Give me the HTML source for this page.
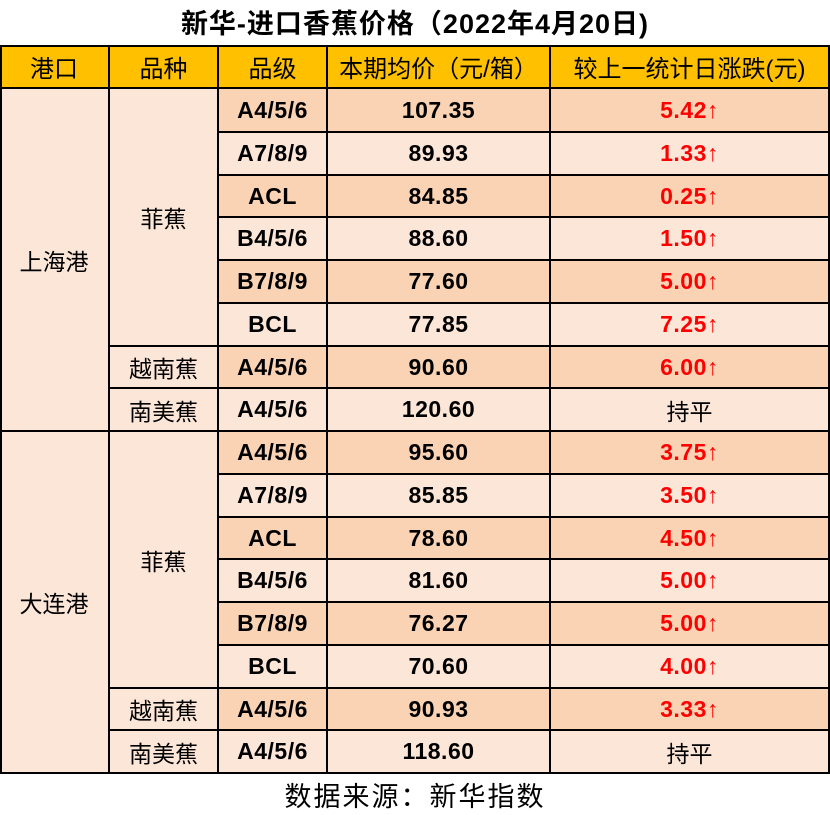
<!DOCTYPE html><html><head><meta charset="utf-8"><style>
body{margin:0;width:830px;height:815px;background:#fff;position:relative;font-family:"Liberation Sans","Noto Sans CJK SC",sans-serif;overflow:hidden}
.c{position:absolute;display:flex;align-items:center;justify-content:center;box-sizing:border-box;border-right:2px solid #000;border-bottom:2px solid #000;font-size:23px;color:#000}
.n{font-weight:bold;font-size:23px;letter-spacing:0.5px}
.r{color:#f00}
.h{font-size:24px}
</style></head><body>
<div style="position:absolute;top:2px;left:0;width:830px;text-align:center;font-size:27px;font-weight:bold;letter-spacing:1px">新华-进口香蕉价格（2022年4月20日)</div>
<div id="t"></div>
<div style="position:absolute;top:775px;left:0;width:830px;text-align:center;font-size:27px;letter-spacing:2px">数据来源：新华指数</div>
<script>
var X=[0,110,219,328,551,830],H=45,R0=89,RH=42.75;
var html='';
function cell(x0,x1,y0,y1,bg,txt,cls){html+='<div class="c '+(cls||'')+'" style="left:'+x0+'px;top:'+y0+'px;width:'+(x1-x0)+'px;height:'+(y1-y0)+'px;background:'+bg+'">'+txt+'</div>';}
var O='#FFC000',L='#FCE6D8',D='#FAD3B4';
var hd=['港口','品种','品级','本期均价（元/箱）','较上一统计日涨跌(元)'];
html+='<div style="position:absolute;left:0;top:'+H+'px;width:830px;height:2px;background:#000;z-index:2"></div>';
html+='<div style="position:absolute;left:0;top:'+H+'px;width:2px;height:729px;background:#000;z-index:2"></div>';
for(var i=0;i<5;i++)cell(X[i],X[i+1],H,R0,O,hd[i],'h');
var data=[['A4/5/6','107.35','5.42'],['A7/8/9','89.93','1.33'],['ACL','84.85','0.25'],['B4/5/6','88.60','1.50'],['B7/8/9','77.60','5.00'],['BCL','77.85','7.25'],['A4/5/6','90.60','6.00'],['A4/5/6','120.60','持平'],
['A4/5/6','95.60','3.75'],['A7/8/9','85.85','3.50'],['ACL','78.60','4.50'],['B4/5/6','81.60','5.00'],['B7/8/9','76.27','5.00'],['BCL','70.60','4.00'],['A4/5/6','90.93','3.33'],['A4/5/6','118.60','持平']];
function y(i){return Math.round(R0+i*RH)+1;}
for(var p=0;p<2;p++){
 var b=p*8;
 cell(X[0],X[1],y(b)-(b?0:1),y(b+8),L,p?'大连港':'上海港');
 cell(X[1],X[2],y(b)-(b?0:1),y(b+6),L,'菲蕉');
 cell(X[1],X[2],y(b+6),y(b+7),L,'越南蕉');
 cell(X[1],X[2],y(b+7),y(b+8),L,'南美蕉');
}
for(var i=0;i<16;i++){
 var bg=(i%8)%2==0?D:L,d=data[i],t=y(i)-(i?0:1);
 cell(X[2],X[3],t,y(i+1),bg,d[0],'n');
 cell(X[3],X[4],t,y(i+1),bg,d[1],'n');
 if(d[2]=='持平')cell(X[4],X[5],t,y(i+1),bg,'持平');
 else cell(X[4],X[5],t,y(i+1),bg,d[2]+'↑','n r');
}
document.getElementById('t').innerHTML=html;
</script>
</body></html>
